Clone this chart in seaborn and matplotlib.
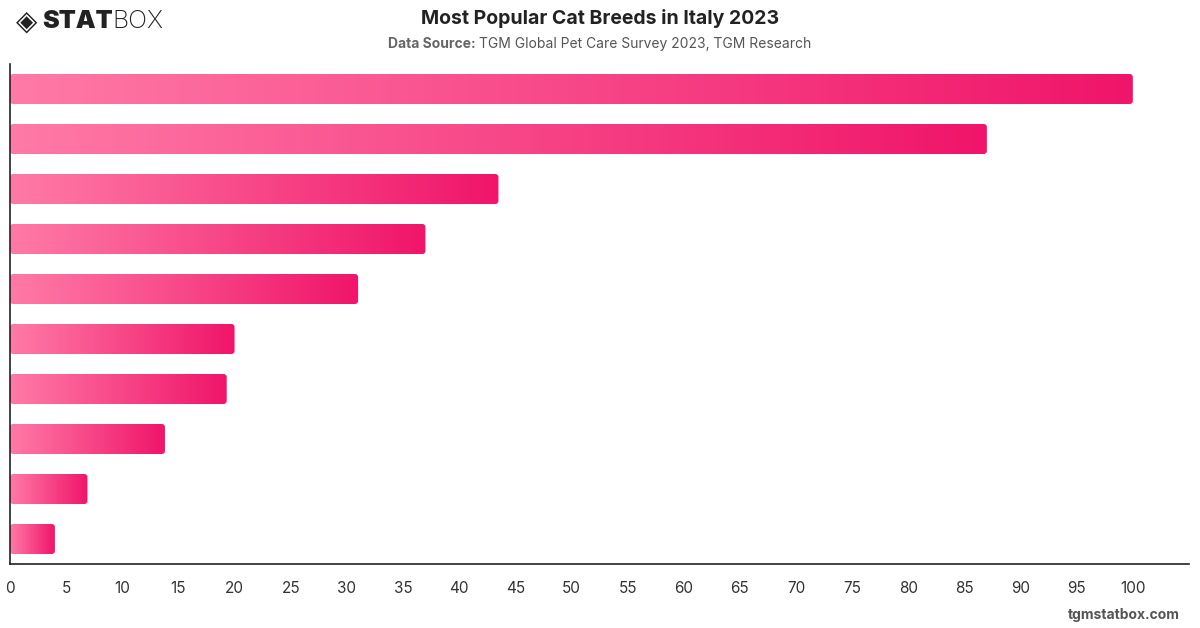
import numpy as np
import pandas as pd
import matplotlib
matplotlib.use('Agg')
import matplotlib.pyplot as plt
import seaborn as sns
from matplotlib.patches import FancyBboxPatch
from matplotlib.colors import LinearSegmentedColormap

# values (no category labels are printed on it)
ranks = ['1', '2', '3', '4', '5', '6', '7', '8', '9', '10']
scores = [100, 87, 43.5, 37, 31, 20, 19.3, 13.8, 6.9, 4.0]

title = 'Most Popular Cat Breeds in Italy 2023'
source = 'TGM Global Pet Care Survey 2023, TGM Research'
ticks = list(range(0, 101, 5))

df = pd.DataFrame({'rank': ranks, 'score': scores})

sns.set_theme(style='white')
plt.rcParams['font.family'] = ['Inter', 'DejaVu Sans']

fig = plt.figure(figsize=(12, 6.28), dpi=100)
ax = fig.add_axes([10 / 1200, 1 - 564 / 628, 1179 / 1200, 500 / 628])

sns.barplot(data=df, x='score', y='rank', orient='h', width=0.6,
            color='#ff7aa6', ax=ax)

cmap = LinearSegmentedColormap.from_list('pink', ['#ff7aa6', '#f0156a'])
grad = np.linspace(0, 1, 256).reshape(1, -1)
for p in list(ax.patches):
    x0, y0, w, h = p.get_x(), p.get_y(), p.get_width(), p.get_height()
    p.set_visible(False)
    box = FancyBboxPatch((x0, y0), w, h,
                         boxstyle='round,pad=0,rounding_size=0.28',
                         mutation_aspect=0.22, facecolor='none',
                         edgecolor='none', transform=ax.transData)
    ax.add_patch(box)
    im = ax.imshow(grad, cmap=cmap, aspect='auto',
                   extent=(x0, x0 + w, y0 + h, y0), interpolation='bilinear')
    im.set_clip_path(box)

ax.set_xlim(0, 105)
ax.set_ylim(9.5, -0.5)
ax.set_xticks(ticks)
ax.set_xticklabels([str(t) for t in ticks], fontsize=11, color='#333333')
ax.set_yticks([])
ax.set_xlabel('')
ax.set_ylabel('')
ax.tick_params(axis='x', length=0, pad=12)
for s in ['top', 'right']:
    ax.spines[s].set_visible(False)
for s in ['left', 'bottom']:
    ax.spines[s].set_color('#222222')
    ax.spines[s].set_linewidth(1.2)

fig.text(0.5, 1 - 18 / 628, title, ha='center', va='center',
         fontsize=14, fontweight='bold', color='#222222')

# subtitle: bold label + normal text, centred together
t1 = fig.text(0, 1 - 44 / 628, 'Data Source: ', ha='left', va='center',
              fontsize=10, fontweight='bold', color='#666666')
t1b = fig.text(0, 1 - 44 / 628, source, ha='left', va='center',
               fontsize=10, color='#555555')
fig.canvas.draw()
w1 = t1.get_window_extent().width
w2 = t1b.get_window_extent().width
start = 600 - (w1 + w2) / 2
t1.set_x(start / 1200)
t1b.set_x((start + w1) / 1200)

# logo
fig.text(16 / 1200, 1 - 22 / 628, '\u25C8', ha='left', va='center',
         fontsize=20, color='#222222', family=['DejaVu Sans'])
t2 = fig.text(42 / 1200, 1 - 22 / 628, 'STAT', ha='left', va='center',
              fontsize=18, fontweight='black', color='#222222')
fig.canvas.draw()
bb2 = t2.get_window_extent()
fig.text(bb2.x1 / 1200, 1 - 22 / 628, 'BOX', ha='left', va='center',
         fontsize=18, fontweight='light', color='#222222')

fig.text(1180 / 1200, 1 - 615 / 628, 'tgmstatbox.com', ha='right', va='center',
         fontsize=10, fontweight='bold', color='#555555')

fig.savefig('out.png', dpi=100)
